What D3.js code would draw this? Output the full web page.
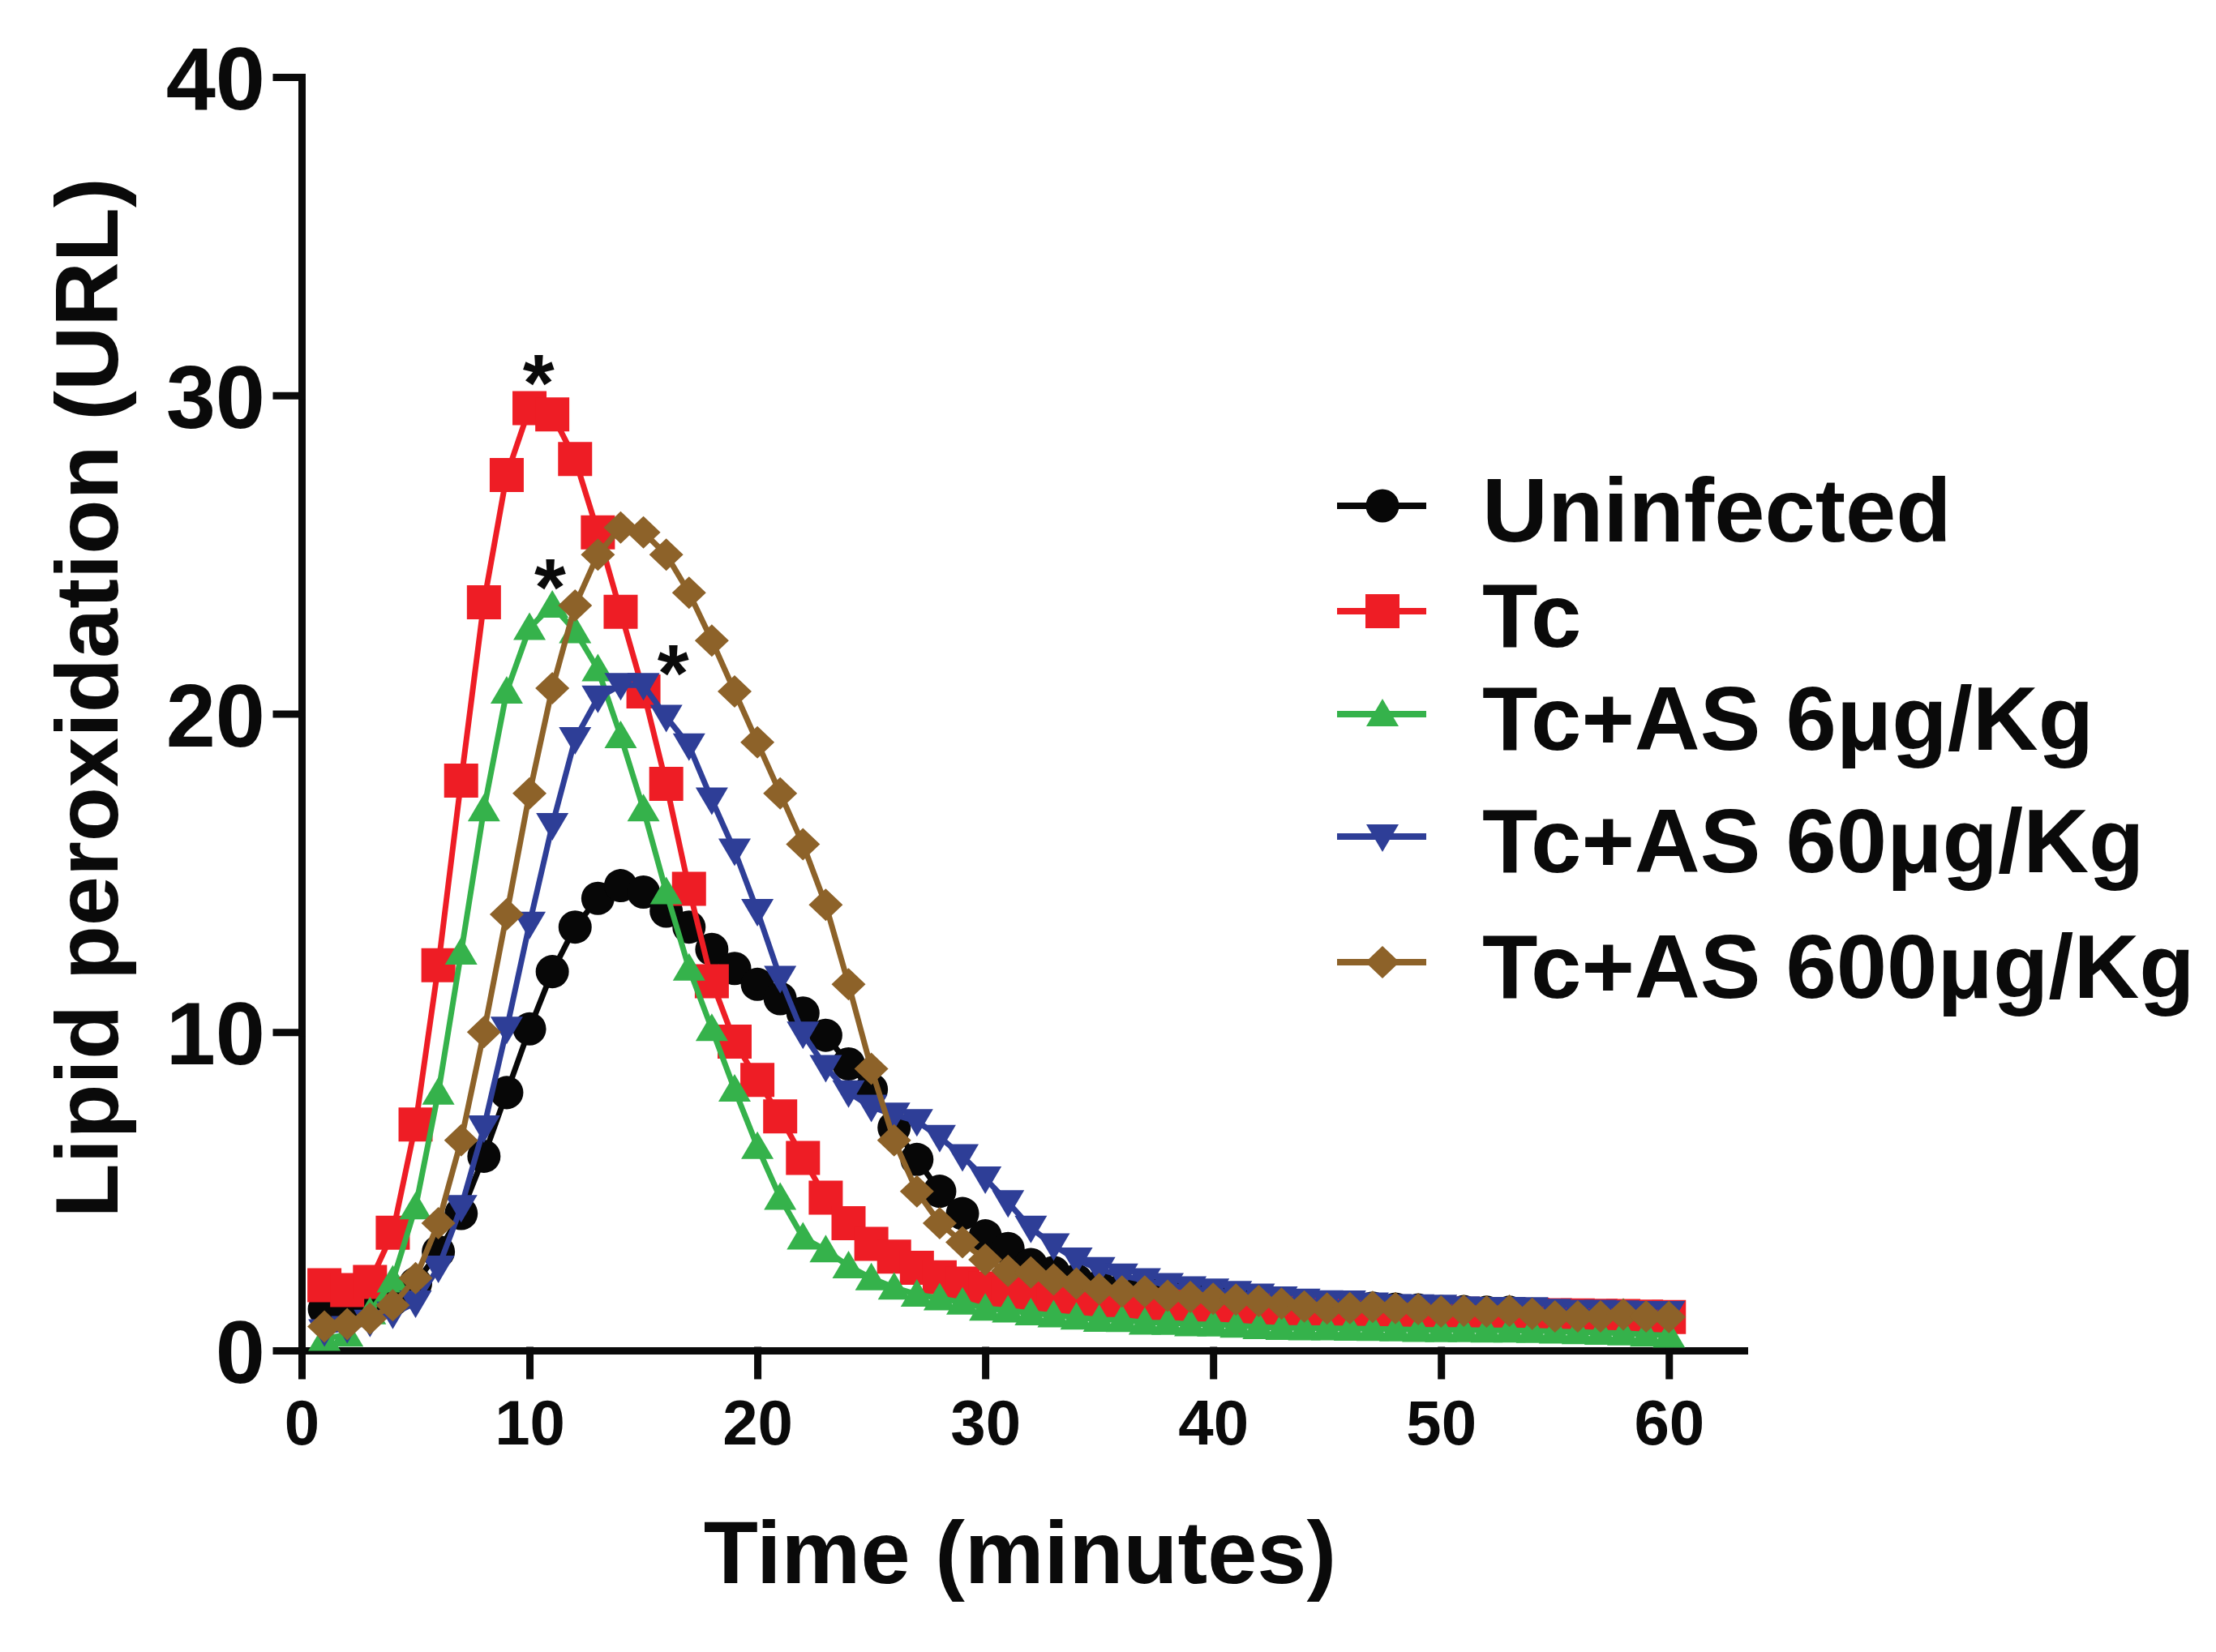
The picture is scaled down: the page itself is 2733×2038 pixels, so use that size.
<!DOCTYPE html>
<html>
<head>
<meta charset="utf-8">
<script src="https://cdn.jsdelivr.net/npm/d3@7"></script>
<style>
  body { margin: 0; background: #fff; }
  text { font-family: "Liberation Sans", Arial, sans-serif; font-weight: bold; fill: #0a0a0a; }
</style>
</head>
<body>
<svg id="chart" width="2733" height="2038"></svg>
<script>
//Data (minutes 1..60)
const minutes = [1,2,3,4,5,6,7,8,9,10,11,12,13,14,15,16,17,18,19,20,
  21,22,23,24,25,26,27,28,29,30,31,32,33,34,35,36,37,38,39,40,
  41,42,43,44,45,46,47,48,49,50,51,52,53,54,55,56,57,58,59,60];

const uninfected = [1.3,1.2,1.3,1.6,2.1,3.1,4.3,6.1,8.1,10.1,
  11.9,13.3,14.2,14.6,14.4,13.8,13.3,12.6,12.0,11.5,
  11.05,10.6,9.9,9.0,8.2,7.0,6.0,5.0,4.3,3.6,
  3.2,2.7,2.45,2.2,2.0,1.9,1.85,1.75,1.7,1.62,
  1.58,1.52,1.46,1.4,1.35,1.33,1.33,1.3,1.27,1.22,
  1.22,1.2,1.2,1.14,1.08,1.07,1.06,1.08,1.05,1.03];

const tc = [2.05,1.9,2.15,3.7,7.1,12.1,17.9,23.5,27.5,29.6,
  29.4,28.0,25.7,23.2,20.7,17.8,14.5,11.6,9.7,8.5,
  7.35,6.05,4.8,4.0,3.35,2.95,2.6,2.3,2.1,1.95,
  1.8,1.72,1.65,1.58,1.52,1.47,1.43,1.4,1.37,1.33,
  1.3,1.28,1.26,1.24,1.22,1.2,1.19,1.18,1.17,1.16,
  1.15,1.14,1.13,1.12,1.11,1.1,1.09,1.08,1.06,1.05];

const as6 = [0.37,0.5,1.2,2.2,4.5,8.1,12.5,17.0,20.7,22.7,
  23.4,22.6,21.4,19.3,17.0,14.4,12.0,10.1,8.2,6.4,
  4.8,3.55,3.15,2.65,2.27,1.98,1.76,1.64,1.51,1.32,
  1.26,1.17,1.11,1.04,0.97,0.96,0.88,0.87,0.83,0.82,
  0.78,0.74,0.71,0.7,0.7,0.69,0.68,0.67,0.65,0.64,
  0.64,0.63,0.63,0.62,0.6,0.58,0.56,0.54,0.5,0.47];

const as60 = [0.6,0.7,0.9,1.15,1.5,2.6,4.5,7.0,10.1,13.4,
  16.5,19.2,20.5,20.9,20.9,19.9,19.0,17.3,15.7,13.8,
  11.7,9.95,8.9,8.1,7.65,7.4,7.2,6.7,6.1,5.4,
  4.65,3.85,3.3,2.85,2.55,2.35,2.2,2.05,1.95,1.88,
  1.8,1.72,1.63,1.56,1.51,1.5,1.44,1.39,1.38,1.37,
  1.32,1.3,1.3,1.29,1.24,1.21,1.21,1.19,1.17,1.17];

const as600 = [0.75,0.83,1.0,1.42,2.27,4.0,6.6,10.0,13.7,17.5,
  20.8,23.4,25.0,25.85,25.7,25.0,23.8,22.3,20.7,19.1,
  17.5,15.9,14.0,11.5,8.85,6.6,5.0,4.0,3.4,2.85,
  2.5,2.45,2.23,2.1,1.93,1.85,1.85,1.72,1.68,1.62,
  1.6,1.55,1.47,1.38,1.32,1.33,1.37,1.33,1.3,1.22,
  1.25,1.22,1.25,1.15,1.07,1.07,1.07,1.13,1.07,1.05];

const seriesNames = ["Uninfected", "Tc", "Tc+AS 6\u03bcg/Kg", "Tc+AS 60\u03bcg/Kg", "Tc+AS 600\u03bcg/Kg"];
const seriesValues = [uninfected, tc, as6, as60, as600];

const xTicks = [0, 10, 20, 30, 40, 50, 60];
const yTicks = [0, 10, 20, 30, 40];

//Significance marks (minute, value)
const starMinutes = [10.4, 10.9, 16.3];
const starValues = [30.9, 24.5, 21.8];

//Styling
const colors = ["#070707", "#ee1d25", "#35b24b", "#2e3e97", "#8d6229"];

//Custom marker shapes for d3.symbol (size = half-width in px)
const triUp = { draw(ctx, r) { ctx.moveTo(0, -r * 0.95); ctx.lineTo(r, r * 0.75); ctx.lineTo(-r, r * 0.75); ctx.closePath(); } };
const triDown = { draw(ctx, r) { ctx.moveTo(0, r * 0.95); ctx.lineTo(r, -r * 0.75); ctx.lineTo(-r, -r * 0.75); ctx.closePath(); } };
const diamond = { draw(ctx, r) { ctx.moveTo(0, -r); ctx.lineTo(r * 1.05, 0); ctx.lineTo(0, r); ctx.lineTo(-r * 1.05, 0); ctx.closePath(); } };
const circle = { draw(ctx, r) { ctx.arc(0, 0, r, 0, 2 * Math.PI); } };
const square = { draw(ctx, r) { ctx.rect(-r, -r, 2 * r, 2 * r); } };
const shapes = [circle, square, triUp, triDown, diamond];
const shapeSizes = [20.5, 21, 20, 20, 20];

const svg = d3.select("#chart");

const xScale = d3.scaleLinear().domain([0, 63.3]).range([372, 2151]);
const yScale = d3.scaleLinear().domain([0, 40]).range([1666, 95]);

//Axes
const yAxis = d3.axisLeft(yScale).tickValues(yTicks).tickSize(31).tickSizeOuter(0).tickPadding(14);
const gy = svg.append("g").attr("transform", "translate(372,0)").call(yAxis);
gy.selectAll("text").style("font-size", "110px").attr("dy", "0.36em");

const xAxis = d3.axisBottom(xScale).tickValues(xTicks).tickSize(31).tickSizeOuter(0).tickPadding(30);
const gx = svg.append("g").attr("transform", "translate(0,1666)").call(xAxis);
gx.selectAll("text").style("font-size", "78px").attr("dy", "0.71em");

svg.selectAll(".domain, .tick line")
  .attr("stroke", "#0a0a0a")
  .attr("stroke-width", 9)
  .attr("stroke-linecap", "square");
svg.selectAll(".tick text").attr("fill", "#0a0a0a");

//Series
const line = d3.line()
  .x((d) => xScale(d[0]))
  .y((d) => yScale(d[1]));

seriesValues.forEach((vals, i) => {
  const pts = minutes.map((m, j) => [m, vals[j]]);
  const g = svg.append("g");
  g.append("path")
    .attr("d", line(pts))
    .attr("fill", "none")
    .attr("stroke", colors[i])
    .attr("stroke-width", 7)
    .attr("stroke-linejoin", "round");
  g.selectAll("path.mark")
    .data(pts)
    .enter()
    .append("path")
    .attr("class", "mark")
    .attr("transform", (d) => `translate(${xScale(d[0])},${yScale(d[1])})`)
    .attr("d", d3.symbol().type(shapes[i]).size(shapeSizes[i]))
    .attr("fill", colors[i]);
});

//Asterisks
svg.selectAll("text.star")
  .data(starMinutes)
  .enter()
  .append("text")
  .attr("class", "star")
  .attr("x", (d) => xScale(d))
  .attr("y", (d, i) => yScale(starValues[i]))
  .attr("dy", "0.55em")
  .attr("text-anchor", "middle")
  .style("font-size", "100px")
  .text("*");

//Legend
const legendY = [624, 754, 881, 1032, 1187];
const legend = svg.append("g");
seriesNames.forEach((name, i) => {
  const row = legend.append("g").attr("transform", `translate(0,${legendY[i]})`);
  row.append("line")
    .attr("x1", 1649).attr("x2", 1759)
    .attr("stroke", colors[i]).attr("stroke-width", 8);
  row.append("path")
    .attr("transform", "translate(1705,0)")
    .attr("d", d3.symbol().type(shapes[i]).size(shapeSizes[i]))
    .attr("fill", colors[i]);
  row.append("text")
    .attr("x", 1828).attr("y", 44)
    .style("font-size", "112px")
    .text(name);
});

//Axis titles
svg.append("text")
  .attr("x", 1258).attr("y", 1953)
  .attr("text-anchor", "middle")
  .style("font-size", "110px")
  .text("Time (minutes)");

svg.append("text")
  .attr("transform", "translate(145,861) rotate(-90)")
  .attr("text-anchor", "middle")
  .style("font-size", "110px")
  .text("Lipid peroxidation (URL)");
</script>
</body>
</html>
